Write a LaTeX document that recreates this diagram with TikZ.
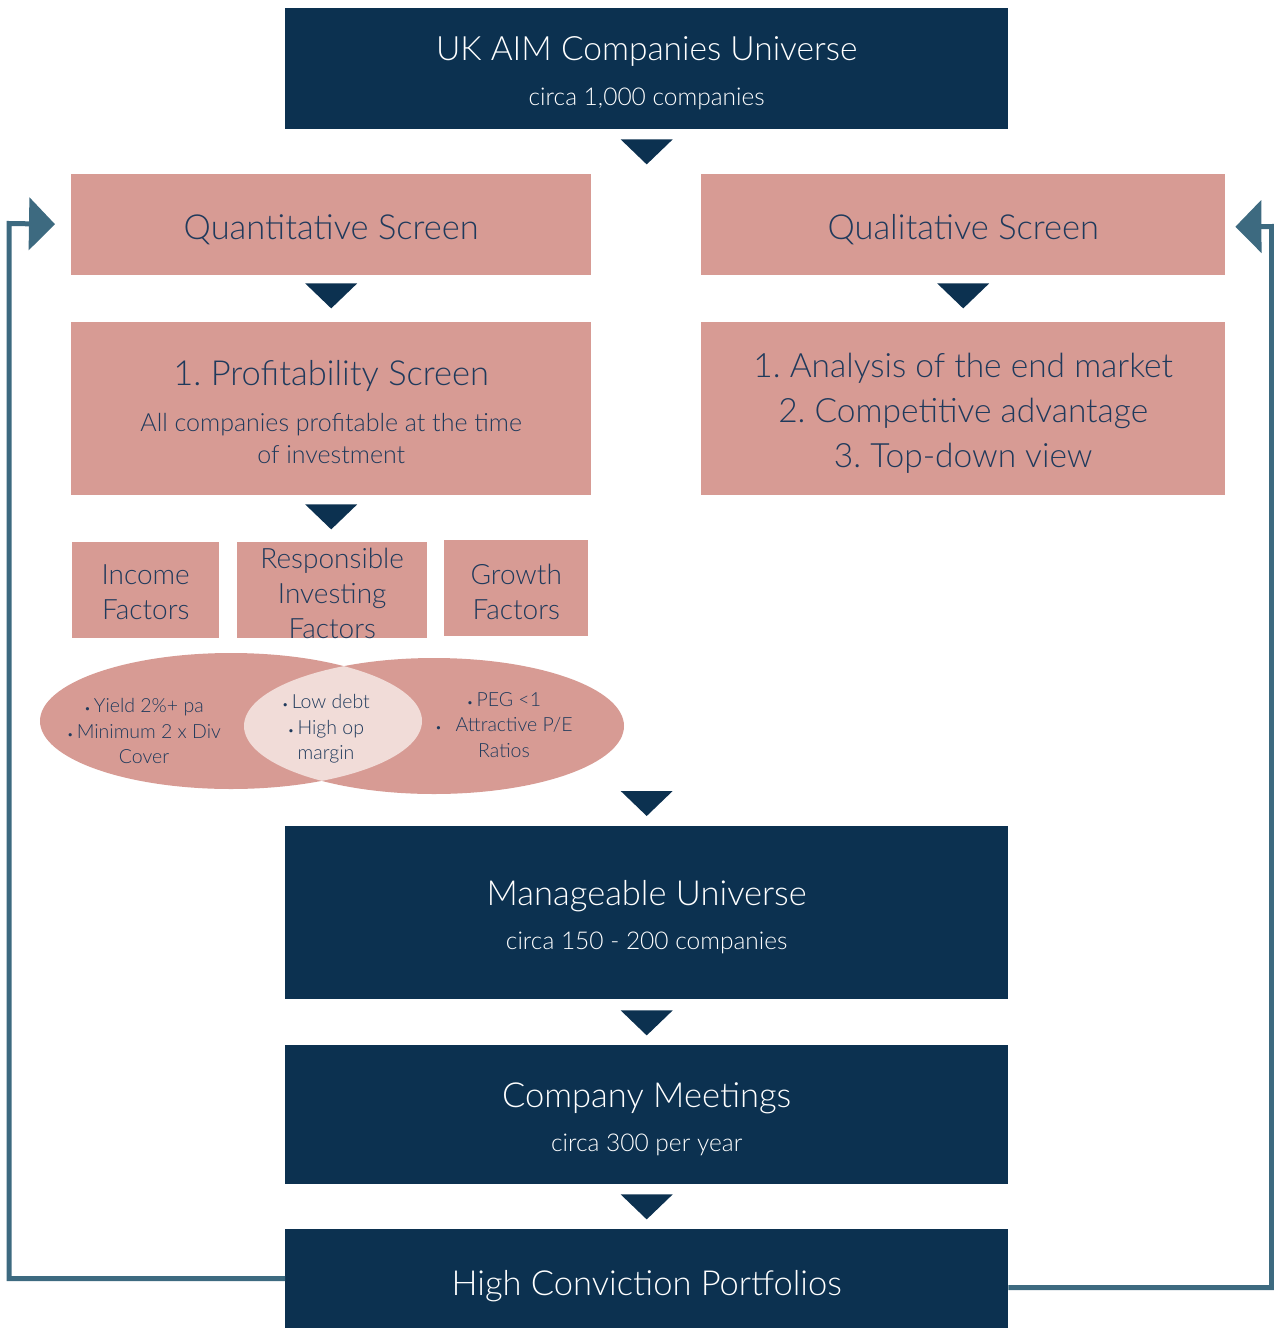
\documentclass[tikz,border=0pt]{standalone}
\usepackage{fontspec}
\setmainfont{Lato Light}
\usetikzlibrary{calc,arrows.meta}
\definecolor{navy}{HTML}{0C3150}
\definecolor{rose}{HTML}{D79B94}
\definecolor{roselite}{HTML}{F1DCD8}
\definecolor{roseink}{HTML}{1F3A5C}
\definecolor{loopline}{HTML}{3D6A80}

% small downward arrow mark between two boxes
\newcommand{\downmark}[1]{\fill[navy] #1 ++(-26,0) -- ++(52,0) -- ++(-26,25) -- cycle;}
\newcommand{\bul}{{\fontsize{11}{11}\selectfont•}\,}

\begin{document}
\frenchspacing
\begin{tikzpicture}[x=1pt, y=-1pt, line join=miter]
  \tikzset{
    navybox/.style={fill=navy, inner sep=0pt, anchor=north west},
    rosebox/.style={fill=rose, inner sep=0pt, anchor=north west},
    bigtxt/.style={font=\fontsize{34.5}{36}\selectfont},
    subtxt/.style={font=\fontsize{24.5}{26}\selectfont},
    facttxt/.style={text=roseink, align=center, font=\fontsize{28}{35}\selectfont},
    venntxt/.style={text=roseink, align=center, font=\fontsize{19.5}{25.5}\selectfont},
    loop/.style={draw=loopline, line width=5pt, -{Triangle[length=26pt, width=52pt]}},
  }
  \useasboundingbox (0,0) rectangle (1274,1328);

  % boxes of the funnel
  \node[navybox, minimum width=723, minimum height=121] (top)    at (285,8) {};
  \node[rosebox, minimum width=520, minimum height=101] (quant)  at (71,174) {};
  \node[rosebox, minimum width=524, minimum height=101] (qual)   at (701,174) {};
  \node[rosebox, minimum width=520, minimum height=173] (prof)   at (71,322) {};
  \node[rosebox, minimum width=524, minimum height=173] (market) at (701,322) {};
  \node[rosebox, minimum width=147, minimum height=96]  (income) at (72,542) {};
  \node[rosebox, minimum width=190, minimum height=96]  (resp)   at (237,542) {};
  \node[rosebox, minimum width=144, minimum height=96]  (growth) at (444,540) {};
  \node[navybox, minimum width=723, minimum height=173] (manage) at (285,826) {};
  \node[navybox, minimum width=723, minimum height=139] (meet)   at (285,1045) {};
  \node[navybox, minimum width=723, minimum height=99]  (hcp)    at (285,1229) {};

  % texts
  \node[white, font=\fontsize{33.5}{36}\selectfont] (topT) at ($(top.north)+(0,43)$) {UK AIM Companies Universe};
  \node[white, subtxt] (topS) at ($(top.north)+(0,91)$) {circa 1,000 companies};
  \node[roseink, bigtxt] (quantT) at ($(quant.center)+(0,5)$) {Quantitative Screen};
  \node[roseink, bigtxt] (qualT)  at ($(qual.center)+(0,5)$)  {Qualitative Screen};
  \node[roseink, bigtxt] (profT)  at ($(prof.north)+(0,54)$) {1. Profitability Screen};
  \node[roseink, align=center, font=\fontsize{25}{32}\selectfont] (profS) at ($(prof.north)+(0,116)$)
    {All companies profitable at the time\\of investment};
  \node[roseink, align=center, font=\fontsize{33.5}{45}\selectfont] (marketT) at ($(market.center)+(0,5)$)
    {1. Analysis of the end market\\2. Competitive advantage\\3. Top-down view};
  \node[facttxt] (incomeT) at ($(income.center)+(0,2)$) {Income\\Factors};
  \node[facttxt] (respT)   at ($(resp.center)+(0,3)$)   {Responsible\\Investing\\Factors};
  \node[facttxt] (growthT) at ($(growth.center)+(0,4)$) {Growth\\Factors};
  \node[white, bigtxt] (manageT) at ($(manage.north)+(0,70)$)  {Manageable Universe};
  \node[white, subtxt] (manageS) at ($(manage.north)+(0,117)$) {circa 150 - 200 companies};
  \node[white, bigtxt] (meetT) at ($(meet.north)+(0,53)$) {Company Meetings};
  \node[white, subtxt] (meetS) at ($(meet.north)+(0,100)$) {circa 300 per year};
  \node[white, bigtxt] (hcpT) at ($(hcp.center)+(0,7)$) {High Conviction Portfolios};

  % factor ellipses with their overlap
  \fill[rose] (231,721) ellipse [x radius=191, y radius=68];
  \fill[rose] (434,726) ellipse [x radius=190, y radius=68];
  \begin{scope}
    \clip (231,721) ellipse [x radius=191, y radius=68];
    \fill[roselite] (434,726) ellipse [x radius=190, y radius=68];
  \end{scope}
  \node[venntxt] (incomeV) at (144,731) {\bul Yield 2\%+ pa\\\bul Minimum 2 x Div\\Cover};
  \node[venntxt] (respV)   at (326,729) {\bul Low debt\\\bul High op\\margin};
  \node[venntxt] (growthV) at (504,725) {\bul PEG <1\\\bul\; Attractive P/E\\Ratios};

  % down marks
  \downmark{($(top.south)+(0,10)$)}
  \downmark{($(quant.south)+(0,8)$)}
  \downmark{($(qual.south)+(0,8)$)}
  \downmark{($(prof.south)+(0,9)$)}
  \downmark{($(manage.north)+(0,-35)$)}
  \downmark{($(manage.south)+(0,11)$)}
  \downmark{($(meet.south)+(0,10)$)}

  % feedback loops back to the two screens
  \coordinate (qin) at ($(quant.west)+(-16,-0.5)$);
  \coordinate (lin) at ($(qual.east)+(10,2)$);
  \draw[loop] (hcp.west) -| (9,223.5) -- (qin);
  \draw[loop] ($(hcp.east)+(0,9)$) -| (1271.5,226.5) -- (lin);
\end{tikzpicture}
\end{document}
